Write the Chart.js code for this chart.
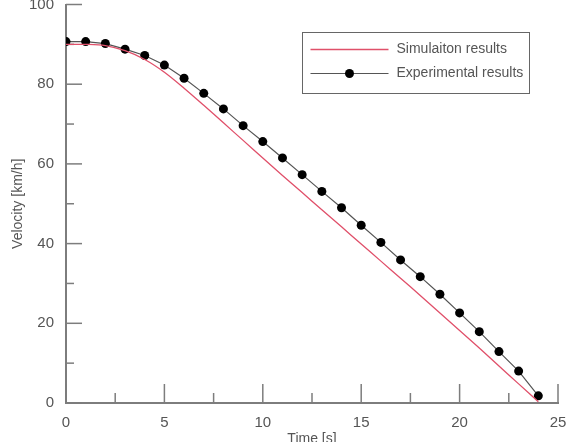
<!DOCTYPE html>
<html>
<head>
<meta charset="utf-8">
<script src="https://cdn.jsdelivr.net/npm/chart.js@4.4.0/dist/chart.umd.min.js"></script>
<style>
    html, body { margin: 0; padding: 0; background: #fff; }
    #wrap { width: 572px; height: 442px; }
</style>
</head>
<body>
<div id="wrap"><canvas id="velocityChart"></canvas></div>
<script>
// Time points [s]
const timeSec = [0, 1, 2, 3, 4, 5, 6, 7, 8, 9, 10, 11, 12, 13, 14, 15, 16, 17, 18, 19, 20, 21, 22, 23, 24];

// Simulation results [km/h]
const simVelocity = [90.0, 90.0, 89.7, 88.4, 86.2, 83.0, 79.0, 74.7, 70.3, 65.9, 61.5, 57.1, 52.8, 48.5, 44.2, 39.9, 35.6, 31.3, 27.0, 22.6, 18.2, 13.8, 9.3, 4.8, 0.3];

// Experimental results [km/h]
const expVelocity = [90.7, 90.7, 90.2, 88.8, 87.2, 84.8, 81.5, 77.7, 73.8, 69.6, 65.6, 61.5, 57.3, 53.1, 49.0, 44.6, 40.3, 35.9, 31.7, 27.3, 22.6, 17.9, 12.9, 8.0, 1.8];

// Axis ticks
const xTicks = [0, 5, 10, 15, 20, 25];
const xMinorTicks = [2.5, 7.5, 12.5, 17.5, 22.5];
const yTicks = [0, 20, 40, 60, 80, 100];
const yMinorTicks = [10, 30, 50, 70, 90];

const axisColor = '#7d7d7d';
const textColor = '#555';
const fontFamily = "'Liberation Sans Narrow', 'Liberation Sans', Arial, sans-serif";

// Ticks pointing into the plot area
const inwardTicks = {
    id: 'inwardTicks',
    beforeDatasetsDraw(chart) {
        const { ctx, scales: { x, y } } = chart;
        ctx.save();
        ctx.strokeStyle = axisColor;
        ctx.lineWidth = 1.5;
        const drawX = (v, len) => {
            const px = x.getPixelForValue(v);
            ctx.beginPath();
            ctx.moveTo(px, y.bottom);
            ctx.lineTo(px, y.bottom - len);
            ctx.stroke();
        };
        const drawY = (v, len) => {
            const py = y.getPixelForValue(v);
            ctx.beginPath();
            ctx.moveTo(x.left, py);
            ctx.lineTo(x.left + len, py);
            ctx.stroke();
        };
        xTicks.forEach(v => drawX(v, 19));
        xMinorTicks.forEach(v => drawX(v, 10));
        yTicks.forEach(v => drawY(v, 16));
        yMinorTicks.forEach(v => drawY(v, 8));
        ctx.restore();
    }
};

// Boxed legend inside the plot
const boxLegend = {
    id: 'boxLegend',
    afterDraw(chart) {
        const { ctx } = chart;
        const bx = 302.5, by = 32.5, bw = 227, bh = 61;
        ctx.save();
        ctx.fillStyle = '#fff';
        ctx.fillRect(bx, by, bw, bh);
        ctx.strokeStyle = '#666';
        ctx.lineWidth = 1;
        ctx.strokeRect(bx, by, bw, bh);
        ctx.font = '14px ' + fontFamily;
        ctx.textBaseline = 'middle';
        ctx.textAlign = 'left';
        chart.data.datasets.forEach((ds, i) => {
            const ly = by + 17 + i * 24;
            ctx.strokeStyle = ds.borderColor;
            ctx.lineWidth = ds.borderWidth;
            ctx.beginPath();
            ctx.moveTo(bx + 8, ly);
            ctx.lineTo(bx + 86, ly);
            ctx.stroke();
            if (ds.pointRadius > 0) {
                ctx.fillStyle = ds.pointBackgroundColor;
                ctx.beginPath();
                ctx.arc(bx + 47, ly, ds.pointRadius, 0, Math.PI * 2);
                ctx.fill();
            }
            ctx.fillStyle = textColor;
            ctx.fillText(ds.label, bx + 94, ly);
        });
        ctx.restore();
    }
};

const ctx = document.getElementById('velocityChart').getContext('2d');
const chart = new Chart(ctx, {
    type: 'line',
    data: {
        datasets: [
            {
                label: 'Simulaiton results',
                data: timeSec.map((t, i) => ({ x: t, y: simVelocity[i] })),
                borderColor: '#e0506a',
                borderWidth: 1.3,
                pointRadius: 0,
                tension: 0.3,
                fill: false
            },
            {
                label: 'Experimental results',
                data: timeSec.map((t, i) => ({ x: t, y: expVelocity[i] })),
                borderColor: '#555',
                borderWidth: 1.2,
                pointRadius: 4.5,
                pointBackgroundColor: '#000',
                pointBorderColor: '#000',
                pointBorderWidth: 0,
                tension: 0,
                fill: false
            }
        ]
    },
    options: {
        responsive: true,
        maintainAspectRatio: false,
        animation: false,
        layout: {
            padding: { top: 3, right: 14, left: 0, bottom: 0 }
        },
        scales: {
            x: {
                type: 'linear',
                min: 0,
                max: 25,
                afterBuildTicks: scale => { scale.ticks = xTicks.map(v => ({ value: v })); },
                afterFit: scale => {
                    scale.height = 39;
                    scale.paddingLeft = 0;
                    scale.paddingRight = 0;
                },
                grid: { display: false, drawTicks: false },
                border: { display: true, color: axisColor, width: 2 },
                ticks: {
                    color: textColor,
                    padding: 11,
                    maxRotation: 0,
                    font: { family: fontFamily, size: 15 }
                },
                title: {
                    display: true,
                    text: 'Time [s]',
                    color: textColor,
                    padding: { top: 0, bottom: -6 },
                    font: { family: fontFamily, size: 14 }
                }
            },
            y: {
                min: 0,
                max: 100,
                afterBuildTicks: scale => { scale.ticks = yTicks.map(v => ({ value: v })); },
                afterFit: scale => {
                    scale.width = 66;
                    scale.paddingTop = 0;
                    scale.paddingBottom = 0;
                },
                grid: { display: false, drawTicks: false },
                border: { display: true, color: axisColor, width: 2 },
                ticks: {
                    color: textColor,
                    padding: 12,
                    font: { family: fontFamily, size: 15 }
                },
                title: {
                    display: true,
                    text: 'Velocity [km/h]',
                    color: textColor,
                    padding: { top: 10, bottom: 0 },
                    font: { family: fontFamily, size: 14 }
                }
            }
        },
        plugins: {
            legend: { display: false },
            tooltip: { enabled: false }
        }
    },
    plugins: [inwardTicks, boxLegend]
});
</script>
</body>
</html>
